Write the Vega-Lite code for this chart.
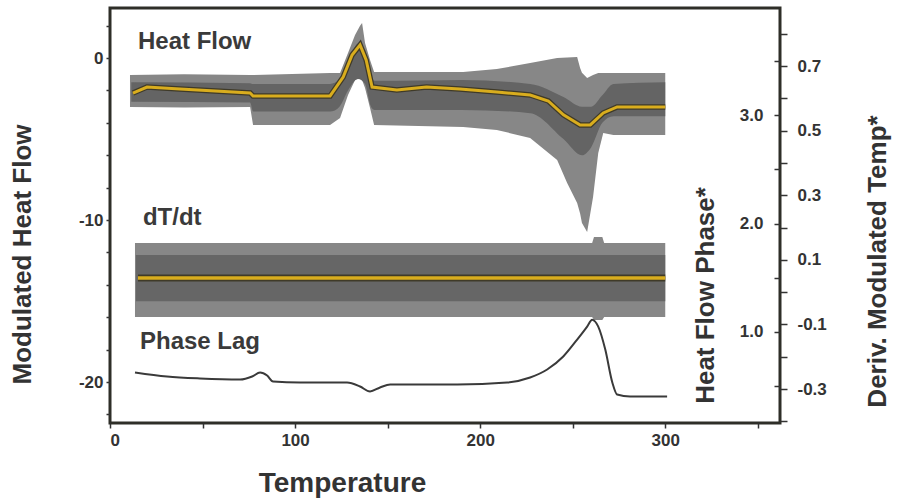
{
  "$schema": "https://vega.github.io/schema/vega-lite/v6.json",
  "autosize": {"type": "none"},
  "width": 670,
  "height": 415,
  "padding": {"left": 110, "top": 8, "right": 126, "bottom": 75},
  "background": "white",
  "config": {
    "view": {"stroke": "#2e2e28", "strokeWidth": 3},
    "font": "Liberation Sans",
    "axis": {
      "labelFont": "Liberation Sans", "labelFontWeight": "bold", "labelFontSize": 17, "labelColor": "#333333",
      "titleFont": "Liberation Sans", "titleFontWeight": "bold", "titleFontSize": 26, "titleColor": "#333333",
      "domain": false, "grid": false, "tickColor": "#333333", "tickWidth": 1.5
    }
  },
  "datasets": {
    "hfBand": [
      {"T": 10.8, "hi": -1.05, "lo": -3.02},
      {"T": 40, "hi": -1.0, "lo": -3.05},
      {"T": 75.7, "hi": -1.05, "lo": -3.02},
      {"T": 77.3, "hi": -1.05, "lo": -4.13},
      {"T": 118.9, "hi": -0.92, "lo": -4.13},
      {"T": 124.3, "hi": -0.92, "lo": -3.7},
      {"T": 128.6, "hi": 0.31, "lo": -2.28},
      {"T": 132.4, "hi": 1.42, "lo": -1.35},
      {"T": 135.1, "hi": 2.0, "lo": -1.23},
      {"T": 136.2, "hi": 2.16, "lo": -1.35},
      {"T": 137.8, "hi": 0.93, "lo": -1.85},
      {"T": 140.5, "hi": -0.12, "lo": -3.08},
      {"T": 142.7, "hi": -0.86, "lo": -4.13},
      {"T": 190.8, "hi": -0.86, "lo": -4.26},
      {"T": 209, "hi": -0.68, "lo": -4.44},
      {"T": 227, "hi": -0.3, "lo": -4.93},
      {"T": 241.6, "hi": 0.0, "lo": -6.29},
      {"T": 247, "hi": 0.03, "lo": -7.71},
      {"T": 252.4, "hi": 0.06, "lo": -8.95},
      {"T": 254, "hi": -0.61, "lo": -9.6},
      {"T": 255, "hi": -0.9, "lo": -10.18},
      {"T": 257.8, "hi": -1.23, "lo": -10.74},
      {"T": 261, "hi": -1.05, "lo": -8.58},
      {"T": 263.8, "hi": -0.92, "lo": -5.86},
      {"T": 266.5, "hi": -0.92, "lo": -4.63},
      {"T": 272, "hi": -0.92, "lo": -4.75},
      {"T": 300, "hi": -0.92, "lo": -4.75}
    ],
    "hfCore": [
      {"T": 11.5, "hi": -1.5, "lo": -2.7},
      {"T": 75.7, "hi": -1.55, "lo": -2.75},
      {"T": 77.3, "hi": -1.6, "lo": -3.3},
      {"T": 118.9, "hi": -1.6, "lo": -3.3},
      {"T": 124, "hi": -1.3, "lo": -3.0},
      {"T": 128.6, "hi": -0.3, "lo": -2.0},
      {"T": 134, "hi": 0.9, "lo": -1.3},
      {"T": 137.8, "hi": 0.5, "lo": -1.6},
      {"T": 141, "hi": -1.2, "lo": -3.0},
      {"T": 143, "hi": -1.4, "lo": -3.2},
      {"T": 190, "hi": -1.35, "lo": -3.2},
      {"T": 227, "hi": -1.6, "lo": -3.4},
      {"T": 245, "hi": -2.4, "lo": -5.0},
      {"T": 255, "hi": -3.0, "lo": -6.0},
      {"T": 260, "hi": -3.0, "lo": -5.5},
      {"T": 266, "hi": -2.3, "lo": -4.0},
      {"T": 272, "hi": -1.6, "lo": -3.6},
      {"T": 300, "hi": -1.5, "lo": -3.6}
    ],
    "hfLine": [
      {"T": 12.4, "hf": -2.16}, {"T": 20, "hf": -1.79}, {"T": 37.8, "hf": -1.91},
      {"T": 75.7, "hf": -2.16}, {"T": 77.3, "hf": -2.34}, {"T": 118.9, "hf": -2.34},
      {"T": 126, "hf": -1.17}, {"T": 130.8, "hf": 0.19}, {"T": 135.1, "hf": 0.81},
      {"T": 138.4, "hf": -0.12}, {"T": 141.6, "hf": -1.79}, {"T": 155, "hf": -1.97},
      {"T": 171, "hf": -1.79}, {"T": 189, "hf": -1.91}, {"T": 209, "hf": -2.1},
      {"T": 227, "hf": -2.28}, {"T": 236.8, "hf": -2.65}, {"T": 245, "hf": -3.51},
      {"T": 254, "hf": -4.13}, {"T": 259.5, "hf": -4.13}, {"T": 266.5, "hf": -3.39},
      {"T": 274, "hf": -3.02}, {"T": 300, "hf": -3.02}
    ],
    "dtBand": [
      {"T": 13.5, "hi": 0.152, "lo": -0.077},
      {"T": 260.5, "hi": 0.152, "lo": -0.077},
      {"T": 261.5, "hi": 0.171, "lo": -0.086},
      {"T": 266, "hi": 0.171, "lo": -0.086},
      {"T": 267, "hi": 0.152, "lo": -0.077},
      {"T": 300, "hi": 0.152, "lo": -0.077}
    ],
    "dtCore": [
      {"T": 14, "hi": 0.115, "lo": -0.028},
      {"T": 300, "hi": 0.115, "lo": -0.028}
    ],
    "dtLine": [
      {"T": 15.1, "dt": 0.044},
      {"T": 300, "dt": 0.044}
    ],
    "phase": [
      {"T": 13.5, "ph": 0.626}, {"T": 30.8, "ph": 0.589}, {"T": 48.6, "ph": 0.571},
      {"T": 70.3, "ph": 0.561}, {"T": 76.8, "ph": 0.589}, {"T": 81.1, "ph": 0.626},
      {"T": 84.9, "ph": 0.598}, {"T": 88.1, "ph": 0.543}, {"T": 102.7, "ph": 0.534},
      {"T": 128.1, "ph": 0.534}, {"T": 135.1, "ph": 0.497}, {"T": 140.5, "ph": 0.451},
      {"T": 145.9, "ph": 0.488}, {"T": 151.4, "ph": 0.515}, {"T": 187.6, "ph": 0.515},
      {"T": 214.6, "ph": 0.534}, {"T": 227, "ph": 0.58}, {"T": 236.2, "ph": 0.654},
      {"T": 244.9, "ph": 0.774}, {"T": 252.4, "ph": 0.93}, {"T": 257.8, "ph": 1.05},
      {"T": 260.5, "ph": 1.114}, {"T": 263.8, "ph": 1.05}, {"T": 267.6, "ph": 0.838},
      {"T": 271.4, "ph": 0.534}, {"T": 274, "ph": 0.423}, {"T": 281, "ph": 0.405},
      {"T": 301, "ph": 0.405}
    ],
    "labels": [
      {"label": "Heat Flow", "T": 15.1, "v": 0.55},
      {"label": "dT/dt", "T": 17.8, "v": -10.3},
      {"label": "Phase Lag", "T": 16.2, "v": -17.96}
    ]
  },
  "encoding": {
    "x": {
      "field": "T", "type": "quantitative",
      "scale": {"domain": [0, 362], "nice": false, "zero": false},
      "axis": {
        "orient": "bottom", "title": "Temperature", "titleFontSize": 28,
        "values": [0, 50, 100, 150, 200, 250, 300, 350],
        "labelExpr": "datum.value % 100 === 0 ? datum.label : ''",
        "tickSize": 5, "labelPadding": 4,
        "titleX": 232, "titleY": 68, "titleAlign": "center", "titleBaseline": "alphabetic"
      }
    }
  },
  "layer": [
    {
      "data": {"name": "hfBand"},
      "mark": {"type": "area", "color": "#878787"},
      "encoding": {
        "y": {
          "field": "hi", "type": "quantitative",
          "scale": {"domain": [-22.53, 3.09], "nice": false, "zero": false},
          "axis": {
            "orient": "left", "title": "Modulated Heat Flow",
            "values": [-22, -20, -18, -16, -14, -12, -10, -8, -6, -4, -2, 0, 2],
            "labelExpr": "datum.value % 10 === 0 ? '' + datum.value : ''",
            "tickSize": 4, "labelPadding": 3,
            "titleAngle": -90, "titleX": -88, "titleY": 246, "titleAlign": "center", "titleBaseline": "middle"
          }
        },
        "y2": {"field": "lo"}
      }
    },
    {
      "data": {"name": "hfCore"},
      "mark": {"type": "area", "color": "#646464", "interpolate": "monotone"},
      "encoding": {
        "y": {"field": "hi", "type": "quantitative", "scale": {"domain": [-22.53, 3.09], "nice": false, "zero": false}, "axis": null},
        "y2": {"field": "lo"}
      }
    },
    {
      "data": {"name": "hfLine"},
      "mark": {"type": "line", "color": "#3f3a28", "strokeWidth": 5.5},
      "encoding": {
        "y": {"field": "hf", "type": "quantitative", "scale": {"domain": [-22.53, 3.09], "nice": false, "zero": false}, "axis": null}
      }
    },
    {
      "data": {"name": "hfLine"},
      "mark": {"type": "line", "color": "#d9ad1e", "strokeWidth": 3},
      "encoding": {
        "y": {"field": "hf", "type": "quantitative", "scale": {"domain": [-22.53, 3.09], "nice": false, "zero": false}, "axis": null}
      }
    },
    {
      "data": {"name": "dtBand"},
      "mark": {"type": "area", "color": "#878787"},
      "encoding": {
        "y": {
          "field": "hi", "type": "quantitative",
          "scale": {"domain": [-0.405, 0.88], "nice": false, "zero": false},
          "axis": {
            "orient": "right", "title": "Deriv.  Modulated Temp*",
            "values": [-0.4, -0.3, -0.2, -0.1, 0, 0.1, 0.2, 0.3, 0.4, 0.5, 0.6, 0.7, 0.8],
            "labelExpr": "abs(round(datum.value * 10)) % 2 == 1 ? replace(format(datum.value, '.1f'), '\u2212', '-') : ''",
            "tickSize": 7, "labelPadding": 10,
            "titleAngle": -90, "titleX": 97, "titleY": 253, "titleAlign": "center", "titleBaseline": "middle"
          }
        },
        "y2": {"field": "lo"}
      }
    },
    {
      "data": {"name": "dtCore"},
      "mark": {"type": "area", "color": "#666666"},
      "encoding": {
        "y": {"field": "hi", "type": "quantitative", "scale": {"domain": [-0.405, 0.88], "nice": false, "zero": false}, "axis": null},
        "y2": {"field": "lo"}
      }
    },
    {
      "data": {"name": "dtLine"},
      "mark": {"type": "line", "color": "#3f3a28", "strokeWidth": 7},
      "encoding": {
        "y": {"field": "dt", "type": "quantitative", "scale": {"domain": [-0.405, 0.88], "nice": false, "zero": false}, "axis": null}
      }
    },
    {
      "data": {"name": "dtLine"},
      "mark": {"type": "line", "color": "#d9ad1e", "strokeWidth": 3.5},
      "encoding": {
        "y": {"field": "dt", "type": "quantitative", "scale": {"domain": [-0.405, 0.88], "nice": false, "zero": false}, "axis": null}
      }
    },
    {
      "data": {"name": "phase"},
      "mark": {"type": "line", "color": "#3a3a3a", "strokeWidth": 2, "interpolate": "monotone"},
      "encoding": {
        "y": {
          "field": "ph", "type": "quantitative",
          "scale": {"domain": [0.16, 3.99], "nice": false, "zero": false},
          "axis": {
            "orient": "left", "offset": -670, "title": "Heat Flow Phase*",
            "values": [0.5, 1, 1.5, 2, 2.5, 3, 3.5],
            "labelExpr": "datum.value % 1 === 0 ? format(datum.value, '.1f') : ''",
            "tickSize": 6, "labelPadding": 11,
            "titleAngle": -90, "titleX": -75, "titleY": 287, "titleAlign": "center", "titleBaseline": "middle"
          }
        }
      }
    },
    {
      "data": {"name": "labels"},
      "mark": {"type": "text", "font": "Liberation Sans", "fontWeight": "bold", "fontSize": 24, "color": "#3a3a3a", "align": "left", "baseline": "alphabetic"},
      "encoding": {
        "y": {"field": "v", "type": "quantitative", "scale": {"domain": [-22.53, 3.09], "nice": false, "zero": false}, "axis": null},
        "text": {"field": "label"}
      }
    }
  ],
  "resolve": {"scale": {"y": "independent"}, "axis": {"y": "independent"}}
}
